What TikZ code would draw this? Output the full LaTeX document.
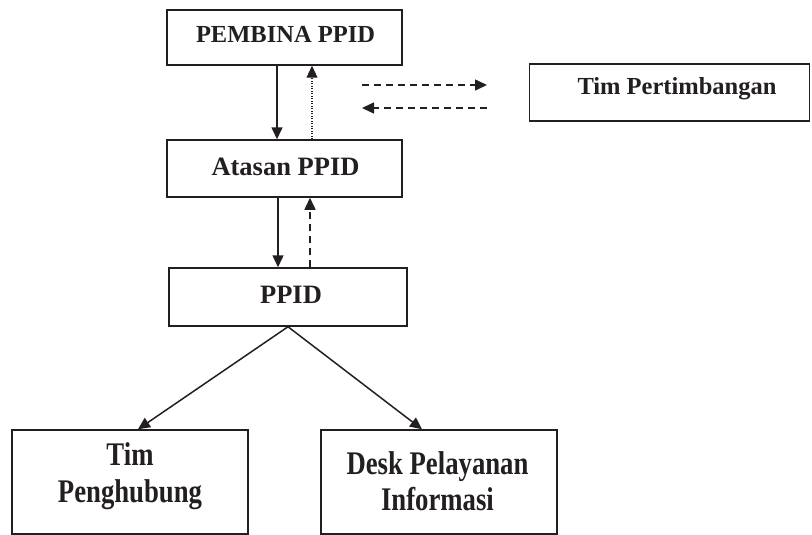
\documentclass[tikz,border=0pt]{standalone}
\usepackage{fontspec}
\setmainfont{Liberation Serif}
\usetikzlibrary{arrows.meta}
\definecolor{ink}{RGB}{35,31,32}
\tikzset{
  box/.style={draw=ink, line width=1.5pt, inner sep=0pt, fill=none},
  lbl/.style={anchor=base, inner sep=0pt, text=ink, font=\bfseries},
  conn/.style={draw=ink, line width=1.5pt, -{Triangle[length=12pt,width=11pt]}},
  dashconn/.style={conn, dash pattern=on 7pt off 5pt},
  dotconn/.style={conn, line width=1.1pt, dash pattern=on 1pt off 1.5pt}
}
\begin{document}
\begin{tikzpicture}[x=1pt,y=-1pt]
\useasboundingbox (0,0) rectangle (812,535);
% boxes
\node[box, minimum width=235pt, minimum height=55pt] (pembina) at (284.5,37.5) {};
\node[box, minimum width=235pt, minimum height=57pt] (atasan) at (284.5,168.5) {};
\node[box, minimum width=238pt, minimum height=58pt] (ppid) at (288,297) {};
\node[box, minimum width=280pt, minimum height=57pt] (timp) at (669.5,92.5) {};
\node[box, minimum width=236pt, minimum height=104pt] (tph) at (130,482) {};
\node[box, minimum width=236pt, minimum height=104pt] (desk) at (439,482) {};
% texts
\node[lbl, font=\bfseries\fontsize{24.5}{28}\selectfont] (t1) at (285.5,43) {PEMBINA PPID};
\node[lbl, font=\bfseries\fontsize{26.5}{30}\selectfont] (t2) at (285.5,175) {Atasan PPID};
\node[lbl, font=\bfseries\fontsize{26.5}{30}\selectfont] (t3) at (291,303) {PPID};
\node[lbl, font=\bfseries\fontsize{24.5}{28}\selectfont] (t4) at (677,95) {Tim Pertimbangan};
\node[lbl, font=\bfseries\fontsize{33}{36}\selectfont] (t5) at (130,465) {\scalebox{0.81}[1]{Tim}};
\node[lbl, font=\bfseries\fontsize{33}{36}\selectfont] (t6) at (130,502) {\scalebox{0.81}[1]{Penghubung}};
\node[lbl, font=\bfseries\fontsize{33}{36}\selectfont] (t7) at (437.5,474) {\scalebox{0.81}[1]{Desk Pelayanan}};
\node[lbl, font=\bfseries\fontsize{33}{36}\selectfont] (t8) at (437.5,510) {\scalebox{0.81}[1]{Informasi}};
% helper coordinates
\coordinate (xa) at (277,0);
\coordinate (xb) at (312,0);
\coordinate (xc) at (278,0);
\coordinate (xd) at (310,0);
\coordinate (xl) at (138,0);
\coordinate (xr) at (422,0);
\coordinate (h1s) at (362,85);
\coordinate (h1e) at (487,85);
\coordinate (h2s) at (487,108);
\coordinate (h2e) at (362,108);
% connectors
\draw[conn] (pembina.south -| xa) -- (atasan.north -| xa);
\draw[dotconn] (atasan.north -| xb) -- (pembina.south -| xb);
\draw[conn] (atasan.south -| xc) -- (ppid.north -| xc);
\draw[dashconn] (ppid.north -| xd) -- (atasan.south -| xd);
\draw[dashconn] (h1s) -- (h1e);
\draw[dashconn] (h2s) -- (h2e);
\draw[conn] (ppid.south) -- (tph.north -| xl);
\draw[conn] (ppid.south) -- (desk.north -| xr);
\end{tikzpicture}
\end{document}
